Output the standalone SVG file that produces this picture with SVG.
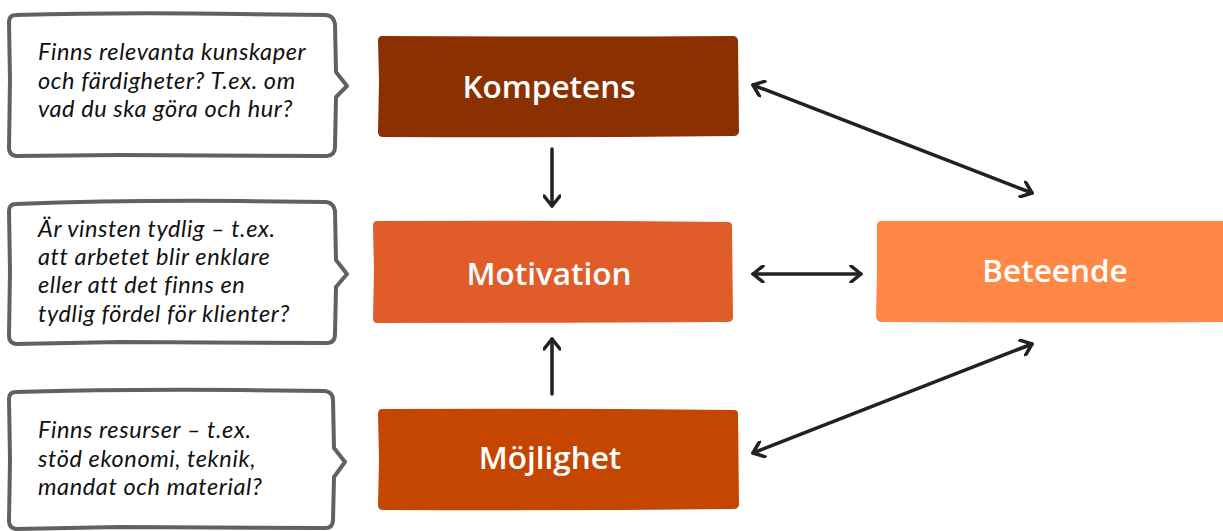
<svg xmlns="http://www.w3.org/2000/svg" width="1223" height="531" viewBox="0 0 1223 531">
<style>
.node-label{font-family:"Open Sans","Noto Sans",sans-serif;font-weight:600;font-size:31.5px;fill:#ffffff;text-anchor:middle}
.note{font-family:Lato,"Open Sans",sans-serif;font-style:italic;font-size:23.5px;letter-spacing:0.6px;fill:#111111}
.bubble{fill:#ffffff;stroke:#616161;stroke-width:4;stroke-linejoin:round}
.conn{stroke:#222222;stroke-width:3.5;fill:none;stroke-linecap:round}
</style>
<defs>
<marker id="ah" viewBox="-12 -9 14 18" markerWidth="14" markerHeight="18" refX="0" refY="0" orient="auto-start-reverse" markerUnits="userSpaceOnUse">
<path d="M-10,-8 L0,0 L-10,8" fill="none" stroke="#222222" stroke-width="3.5" stroke-linecap="round" stroke-linejoin="round"/>
</marker>
</defs>
<rect width="1223" height="531" fill="#ffffff"/>

<g id="note-kompetens">
<path class="bubble" d="M16,15 Q120,12 240,14 L326,15 Q334,16 335,24 L336,72 L347,86 L336,97 L335,147 Q335,155 327,156 L120,155 L16,156 Q9,155 9,148 L10,80 L9,22 Q9,15 16,15 Z"/>
<text class="note" x="38" y="60">Finns relevanta kunskaper</text>
<text class="note" x="38" y="89">och färdigheter? T.ex. om</text>
<text class="note" x="38" y="117">vad du ska göra och hur?</text>
</g>

<g id="note-motivation">
<path class="bubble" d="M16,204 Q120,200 240,201 L326,202 Q334,203 335,211 L336,260 L347,274 L336,287 L335,334 Q335,343 327,343 L120,342 L16,344 Q9,343 9,336 L10,270 L9,211 Q9,204 16,204 Z"/>
<text class="note" x="38" y="237">Är vinsten tydlig – t.ex.</text>
<text class="note" x="38" y="265">att arbetet blir enklare</text>
<text class="note" x="38" y="293">eller att det finns en</text>
<text class="note" x="38" y="322">tydlig fördel för klienter?</text>
</g>

<g id="note-mojlighet">
<path class="bubble" d="M16,392 Q120,389 240,390 L325,391 Q333,392 333,400 L334,448 L345,462 L334,477 L333,520 Q333,528 325,528 L120,527 L16,529 Q9,528 9,521 L10,460 L9,399 Q9,392 16,392 Z"/>
<text class="note" x="38" y="438">Finns resurser – t.ex.</text>
<text class="note" x="38" y="467">stöd ekonomi, teknik,</text>
<text class="note" x="38" y="495">mandat och material?</text>
</g>

<g id="node-kompetens">
<path fill="#8B3000" d="M382,36 Q560,37 734,36 Q738,37 738,41 L739,132 Q738,136 734,136 Q560,138 383,137 Q378,137 378,132 L379,80 L378,41 Q378,36 382,36 Z"/>
<text class="node-label" x="549" y="98">Kompetens</text>
</g>

<g id="node-motivation">
<path fill="#E05D2A" d="M377,221 Q560,220 728,222 Q732,222 732,226 L733,318 Q732,322 728,322 Q560,323 377,323 Q373,323 373,318 L374,270 L373,226 Q373,221 377,221 Z"/>
<text class="node-label" x="549" y="285">Motivation</text>
</g>

<g id="node-mojlighet">
<path fill="#C54600" d="M382,409 Q560,408 734,410 Q738,410 738,414 L739,505 Q738,509 734,509 Q560,511 383,510 Q378,510 378,505 L379,460 L378,414 Q378,409 382,409 Z"/>
<text class="node-label" x="550" y="469">Möjlighet</text>
</g>

<g id="node-beteende">
<path fill="#FF8846" d="M881,221 Q1050,221 1223,221 L1223,322 Q1050,323 882,322 Q877,322 876,317 L877,270 L877,226 Q877,221 881,221 Z"/>
<text class="node-label" x="1055" y="282">Beteende</text>
</g>

<g id="connectors">
<path class="conn" d="M552,149 L552,206" marker-end="url(#ah)"/>
<path class="conn" d="M552,394 L552,339" marker-end="url(#ah)"/>
<path class="conn" d="M753,85 L1032,193" marker-start="url(#ah)" marker-end="url(#ah)"/>
<path class="conn" d="M753,274 L861,274" marker-start="url(#ah)" marker-end="url(#ah)"/>
<path class="conn" d="M753,453 L1032,344" marker-start="url(#ah)" marker-end="url(#ah)"/>
</g>
</svg>
